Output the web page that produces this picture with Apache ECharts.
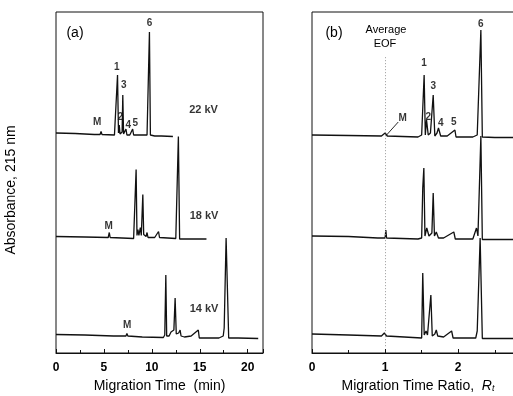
<!DOCTYPE html>
<html>
<head>
<meta charset="utf-8">
<script src="https://cdn.jsdelivr.net/npm/echarts@6/dist/echarts.min.js"></script>
<style>
html, body { margin: 0; padding: 0; background: #fff; }
#chart { width: 513px; height: 396px; }
</style>
</head>
<body>
<div id="chart"></div>
<script>
// traces: [x, absorbance above baseline]
var time22kV = [[0, 2], [2, 1.5], [4, 0.5], [4.6, 0.5], [4.7, 3.5], [4.8, 0.5], [6.1, 0], [6.3, 1], [6.42, 60], [6.52, 2],
    [6.6, 10], [6.68, 1], [6.9, 3], [6.97, 40], [7.05, 1], [7.15, 3], [7.3, 6], [7.4, 0], [7.7, 0], [8.0, 6], [8.1, 0],
    [9.5, 0], [9.6, 1], [9.75, 103], [9.85, 0], [10.3, -1], [11, -1], [12.2, -1.5]];
var time18kV = [[0, 1], [3, 0.5], [5.45, 0], [5.56, 5], [5.65, 0], [8.1, -1], [8.25, 1], [8.36, 68], [8.45, 2], [8.55, 8],
    [8.65, 2], [8.8, 10], [8.9, 2], [9.06, 43], [9.15, 3], [9.3, 5], [9.4, 1], [9.5, 5], [9.6, 0], [10.3, 0], [10.7, 6],
    [10.8, 0], [12.5, -1], [12.6, 0], [12.77, 101], [12.9, -1.5], [14, -1.5], [15.7, -1.5]];
var time14kV = [[0, 1.5], [3, 1], [6, 0], [7.3, 0], [7.4, 2.5], [7.5, 0], [9, -1], [11.2, -1.5], [11.35, 1], [11.46, 61],
    [11.55, 0], [11.7, 2], [11.8, 0], [12.0, 4], [12.1, 2], [12.3, 6], [12.43, 38], [12.55, 2], [12.8, 3], [12.95, 6],
    [13.05, 0], [13.4, -1], [14.1, 0], [14.85, 6], [14.95, -2], [17.0, -2], [17.45, 0], [17.55, 8], [17.75, 98],
    [17.95, 96], [18.02, -2], [19, -2], [21.1, -2.5]];

var ratio22kV = [[0, 1], [0.5, 0.5], [0.95, 0], [1.0, 3], [1.03, 0], [1.45, -1], [1.5, 1], [1.534, 61], [1.55, 1],
    [1.567, 16], [1.59, 1], [1.62, 3], [1.658, 41], [1.68, 0], [1.71, 3], [1.73, 8], [1.76, 0], [1.85, 0], [1.955, 6],
    [1.97, -1], [2.2, -1], [2.26, 1], [2.28, 0], [2.31, 106], [2.33, -1], [2.5, -1.5], [2.9, -1.5]];
var ratio18kV = [[0, 2], [0.5, 1.5], [0.9, 0], [1.0, 0], [1.01, 8], [1.02, 0], [1.45, -1], [1.5, 0], [1.515, 50],
    [1.53, 70], [1.545, 2], [1.57, 10], [1.6, 2], [1.64, 5], [1.658, 45], [1.675, 2], [1.7, 6], [1.73, 0], [1.8, 0],
    [1.94, 6], [1.96, -1], [2.2, -1], [2.25, 10], [2.27, 2], [2.31, 102], [2.33, -1.5], [2.9, -1.5]];
var ratio14kV = [[0, 2], [0.5, 1], [0.95, 0], [0.99, 3], [1.02, 0], [1.5, -2], [1.507, 0], [1.515, 63], [1.535, 1],
    [1.56, 5], [1.58, 1], [1.626, 41], [1.645, 0], [1.68, 2], [1.7, 6], [1.72, 0], [1.8, -1], [1.91, 5], [1.93, -2],
    [2.24, -2], [2.26, 5], [2.3, 98], [2.33, -2.5], [2.9, -2.5]];

// annotations: [text, x, height above baseline]
var peakLabelsTime22 = [['M', 4.3, 13], ['1', 6.33, 68], ['2', 6.7, 18], ['3', 7.06, 50], ['4', 7.53, 10],
    ['5', 8.26, 12], ['6', 9.77, 112]];
var peakLabelsTime18 = [['M', 5.5, 11.5]];
var peakLabelsTime14 = [['M', 7.43, 11]];
var peakLabelsRatio22 = [['M', 1.24, 18], ['1', 1.534, 73], ['2', 1.59, 19], ['3', 1.66, 50], ['4', 1.76, 13],
    ['5', 1.94, 14], ['6', 2.31, 112]];
var voltageLabels = [['22 kV', 15.4, 25], ['18 kV', 15.45, 22], ['14 kV', 15.45, 27]];
var arrowM = [[1.18, 14], [1.02, 1]];
var eofRatio = 1;

var FONT = '"Liberation Sans", Arial, sans-serif';
var chart = echarts.init(document.getElementById('chart'));

var panels = [
    {left: 56, width: 207, max: 21.6, interval: 5, baselines: [135, 237.5, 336],
     traces: [time22kV, time18kV, time14kV], labels: [peakLabelsTime22, peakLabelsTime18, peakLabelsTime14]},
    {left: 312, width: 212, max: 2.9, interval: 1, baselines: [136, 238, 336],
     traces: [ratio22kV, ratio18kV, ratio14kV], labels: [peakLabelsRatio22, [], []]}
];

var grids = [], xAxes = [], yAxes = [], series = [];

panels.forEach(function (p, pi) {
    var frameIdx = grids.length;
    grids.push({left: p.left, width: p.width, top: 12, height: 341, show: true, outerBoundsMode: 'none',
        borderColor: '#111', borderWidth: 1, backgroundColor: 'transparent'});
    xAxes.push({
        gridIndex: frameIdx, type: 'value', min: 0, max: p.max, interval: p.interval,
        axisLine: {lineStyle: {color: '#111', width: 1}},
        axisTick: {inside: true, length: 4, lineStyle: {color: '#111'}},
        minorTick: {show: true, splitNumber: 2, length: 3, lineStyle: {color: '#111'}},
        splitLine: {show: false},
        axisLabel: {color: '#000', fontFamily: FONT, fontSize: 12, fontWeight: 'bold', margin: 9,
            formatter: function (v) { return Math.abs(v / p.interval - Math.round(v / p.interval)) < 1e-6 ? String(v) : ''; }},
        name: pi === 0 ? 'Migration Time  (min)' : 'Migration Time Ratio,  {i|R}{s|t}',
        nameLocation: 'middle', nameGap: pi === 0 ? 22 : 25,
        nameTextStyle: {color: '#000', fontFamily: FONT, fontSize: 14,
            rich: {i: {fontStyle: 'italic', fontSize: 14, fontFamily: FONT, color: '#000'},
                   s: {fontStyle: 'italic', fontSize: 9, fontFamily: FONT, color: '#000', verticalAlign: 'bottom', padding: [6, 0, 0, 0]}}}
    });
    yAxes.push({gridIndex: frameIdx, type: 'value', min: 0, max: 100, show: false});

    if (pi === 1) {
        series.push({
            type: 'line', xAxisIndex: frameIdx, yAxisIndex: frameIdx, data: [], silent: true,
            markLine: {symbol: 'none', silent: true, label: {show: false},
                lineStyle: {color: '#999', type: [1, 2], width: 1},
                data: [[{coord: [eofRatio, 2]}, {coord: [eofRatio, 87]}]]}
        });
    }

    p.traces.forEach(function (tr, ti) {
        var idx = grids.length;
        grids.push({left: p.left, width: p.width, top: p.baselines[ti] - 125, height: 130, outerBoundsMode: 'none'});
        xAxes.push({gridIndex: idx, type: 'value', min: 0, max: p.max, show: false});
        yAxes.push({gridIndex: idx, type: 'value', min: -5, max: 125, show: false});
        series.push({
            type: 'line', xAxisIndex: idx, yAxisIndex: idx, data: tr, symbol: 'none', clip: false,
            lineStyle: {color: '#111', width: 1.3}
        });
        var lbls = p.labels[ti].map(function (l) { return {name: l[0], value: [l[1], l[2]]}; });
        if (pi === 0) {
            var v = voltageLabels[ti];
            lbls.push({name: v[0], value: [v[1], v[2]], label: {fontSize: 11}});
        }
        series.push({
            type: 'scatter', xAxisIndex: idx, yAxisIndex: idx, data: lbls, symbolSize: 1,
            itemStyle: {color: 'rgba(0,0,0,0)'}, silent: true,
            label: {show: true, position: 'inside', formatter: '{b}', color: '#000',
                fontFamily: FONT, fontSize: 10, fontWeight: 'bold'}
        });
        if (pi === 1 && ti === 0) {
            series.push({
                type: 'line', xAxisIndex: idx, yAxisIndex: idx, data: arrowM, symbol: 'none',
                lineStyle: {color: '#111', width: 0.9}, silent: true
            });
        }
    });
});

var option = {
    animation: false,
    grid: grids,
    xAxis: xAxes,
    yAxis: yAxes,
    series: series,
    graphic: [
        {type: 'text', x: 11, y: 190, rotation: Math.PI / 2,
         style: {text: 'Absorbance, 215 nm', fontFamily: FONT, fontSize: 14, fill: '#000', textAlign: 'center', textVerticalAlign: 'middle'}},
        {type: 'text', x: 75, y: 33, style: {text: '(a)', fontFamily: FONT, fontSize: 14, fill: '#000', textAlign: 'center', textVerticalAlign: 'middle'}},
        {type: 'text', x: 334, y: 33, style: {text: '(b)', fontFamily: FONT, fontSize: 14, fill: '#000', textAlign: 'center', textVerticalAlign: 'middle'}},
        {type: 'text', x: 386, y: 30, style: {text: 'Average', fontFamily: FONT, fontSize: 11, fill: '#000', textAlign: 'center', textVerticalAlign: 'middle'}},
        {type: 'text', x: 385, y: 44, style: {text: 'EOF', fontFamily: FONT, fontSize: 11, fill: '#000', textAlign: 'center', textVerticalAlign: 'middle'}}
    ]
};
chart.setOption(option);
</script>
</body>
</html>
